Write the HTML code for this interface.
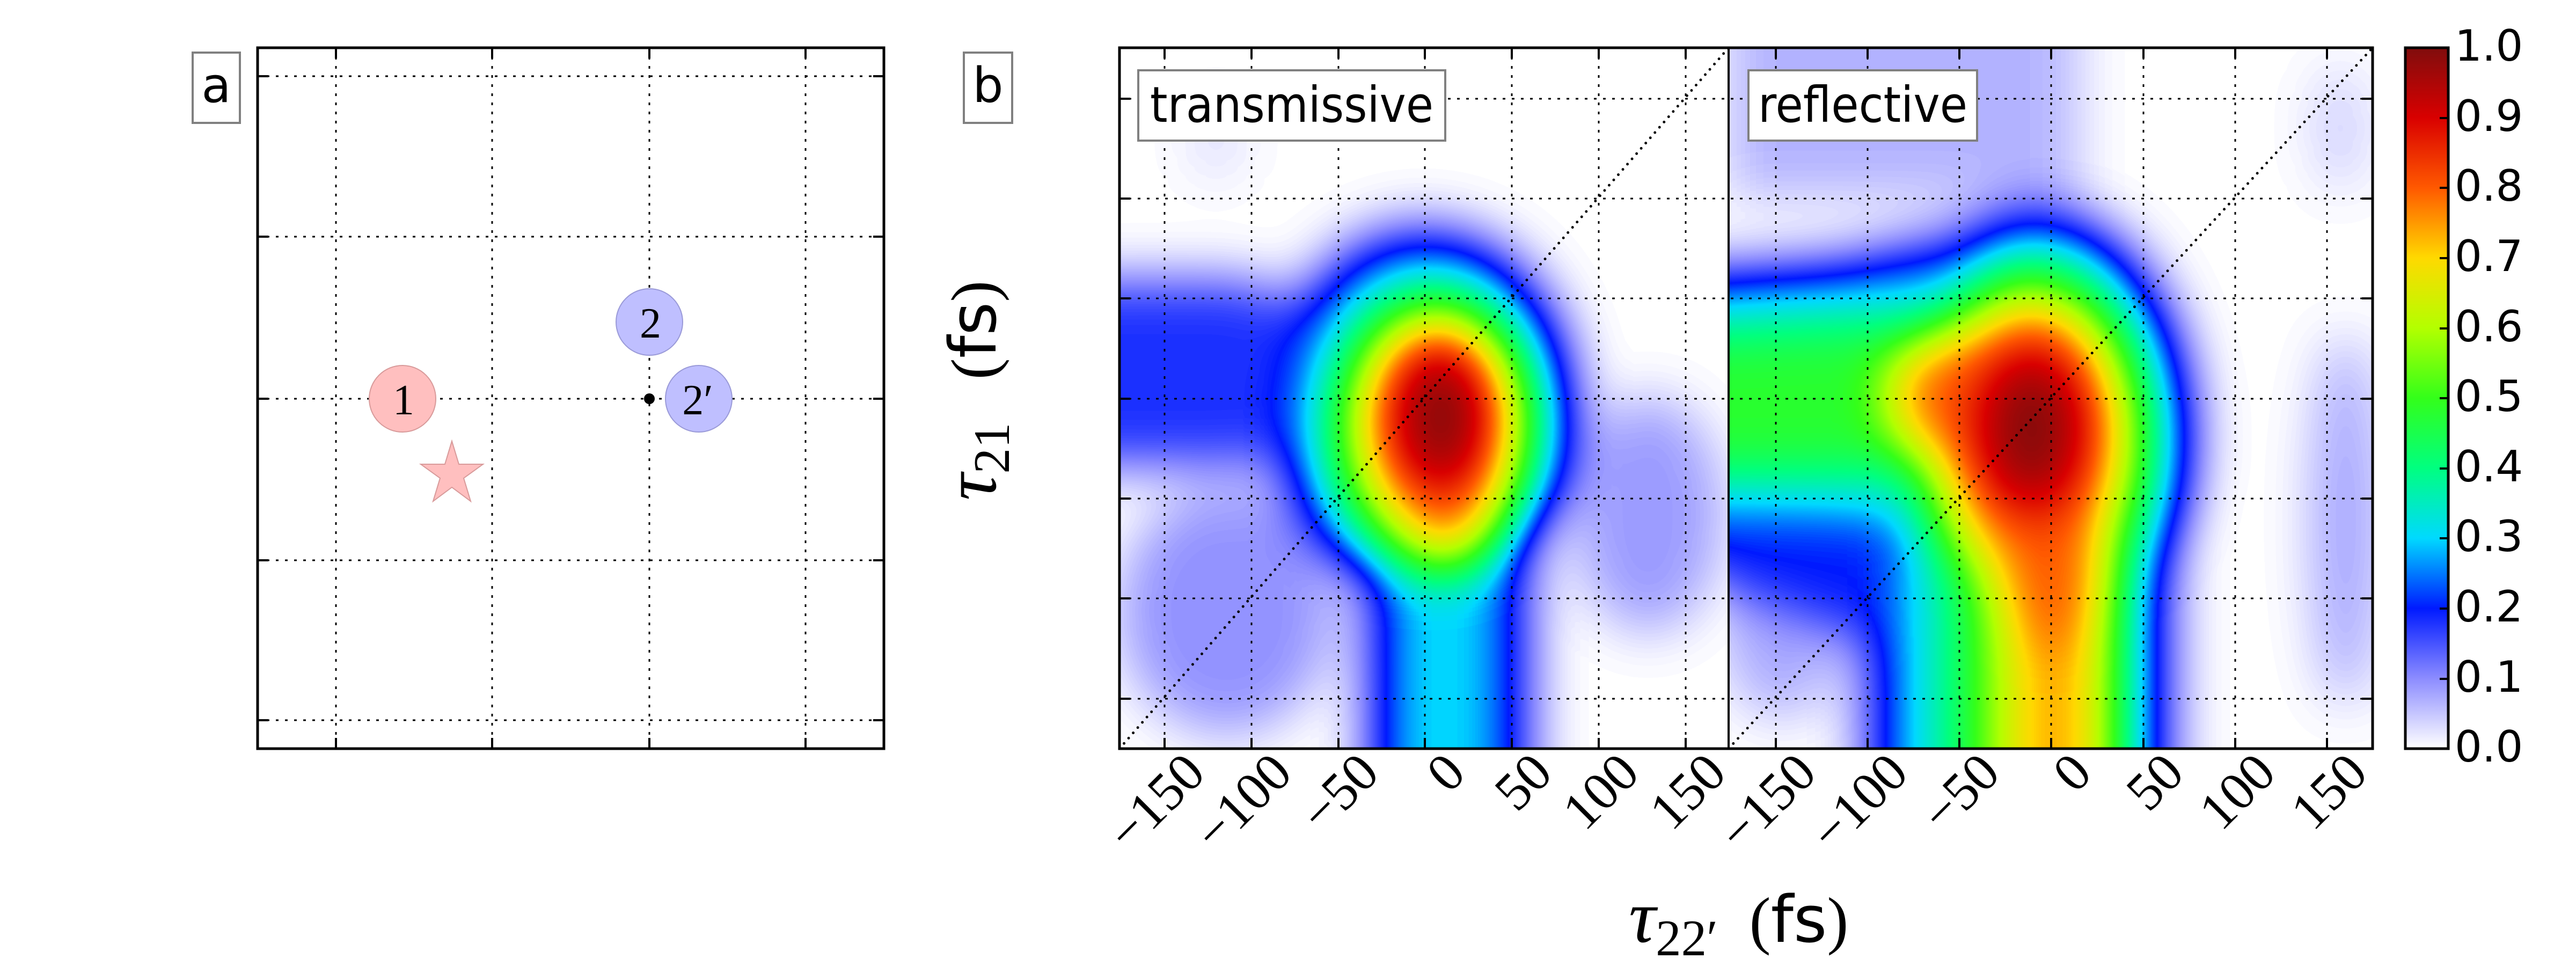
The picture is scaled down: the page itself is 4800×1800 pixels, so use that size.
<!DOCTYPE html>
<html><head><meta charset="utf-8"><style>html,body{margin:0;padding:0;background:#fff}svg{display:block}</style></head>
<body>
<svg width="4800" height="1800" viewBox="0 0 4800 1800" xmlns="http://www.w3.org/2000/svg">
<defs>
<filter id="cm" filterUnits="userSpaceOnUse" x="-300" y="-300" width="1800" height="1900" color-interpolation-filters="sRGB">
<feGaussianBlur stdDeviation="50"/>
<feComponentTransfer>
<feFuncR type="table" tableValues="1 0.55 0 0 0 0.2 0.7 1 1 0.85 0.5"/>
<feFuncG type="table" tableValues="1 0.55 0.1 0.85 1 1 1 0.85 0.35 0 0.05"/>
<feFuncB type="table" tableValues="1 1 1 1 0.5 0.1 0 0 0 0 0.05"/>
<feFuncA type="table" tableValues="1 1"/>
</feComponentTransfer>
</filter>
<clipPath id="c1"><rect x="0" y="0" width="1135" height="1306"/></clipPath>
<clipPath id="c2"><rect x="0" y="0" width="1200" height="1306"/></clipPath>
<linearGradient id="cb" x1="0" y1="1" x2="0" y2="0">
<stop offset="0" stop-color="#ffffff"/><stop offset="0.1" stop-color="#8c8cff"/><stop offset="0.2" stop-color="#001aff"/>
<stop offset="0.3" stop-color="#00d9ff"/><stop offset="0.4" stop-color="#00ff80"/><stop offset="0.5" stop-color="#33ff1a"/>
<stop offset="0.6" stop-color="#b3ff00"/><stop offset="0.7" stop-color="#ffd900"/><stop offset="0.8" stop-color="#ff5900"/>
<stop offset="0.9" stop-color="#d90000"/><stop offset="1" stop-color="#800d0d"/>
</linearGradient>
</defs>

<!-- Panel a -->
<g stroke="#000" stroke-width="3" stroke-dasharray="5 12" fill="none">
<line x1="480" y1="142" x2="1647" y2="142"/><line x1="480" y1="441" x2="1647" y2="441"/>
<line x1="480" y1="743" x2="1647" y2="743"/><line x1="480" y1="1044" x2="1647" y2="1044"/>
<line x1="480" y1="1342" x2="1647" y2="1342"/>
<line x1="626" y1="89" x2="626" y2="1395"/><line x1="917" y1="89" x2="917" y2="1395"/>
<line x1="1210" y1="89" x2="1210" y2="1395"/><line x1="1501" y1="89" x2="1501" y2="1395"/>
</g>
<g stroke="#000" stroke-width="4">
<path d="M480 142h20M480 441h20M480 743h20M480 1044h20M480 1342h20M1647 142h-20M1647 441h-20M1647 743h-20M1647 1044h-20M1647 1342h-20M626 89v20M917 89v20M1210 89v20M1501 89v20M626 1395v-20M917 1395v-20M1210 1395v-20M1501 1395v-20"/>
</g>
<circle cx="750" cy="743" r="62" fill="#ffbfbf" stroke="#d89a9a" stroke-width="2"/>
<circle cx="1210" cy="600" r="62" fill="#bfbfff" stroke="#9a9ad8" stroke-width="2"/>
<circle cx="1302" cy="743" r="62" fill="#bfbfff" stroke="#9a9ad8" stroke-width="2"/>
<circle cx="1210" cy="743" r="10" fill="#000"/>
<polygon points="842,822 855,865 900,865 864,891 877,934 842,908 807,934 820,891 784,865 829,865" fill="#ffbfbf" stroke="#d89a9a" stroke-width="2"/>
<g font-family="Liberation Serif, serif" font-size="80" text-anchor="middle">
<text x="752" y="772">1</text><text x="1212" y="629">2</text><text x="1300" y="772">2′</text>
</g>
<rect x="480" y="89" width="1167" height="1306" fill="none" stroke="#000" stroke-width="5"/>
<rect x="359" y="98" width="88" height="131" fill="#fff" stroke="#808080" stroke-width="4"/>
<text x="403" y="190" font-family="DejaVu Sans, sans-serif" font-size="90" text-anchor="middle">a</text>
<rect x="1796" y="98" width="90" height="131" fill="#fff" stroke="#808080" stroke-width="4"/>
<text x="1841" y="190" font-family="DejaVu Sans, sans-serif" font-size="90" text-anchor="middle">b</text>

<!-- Transmissive heatmap -->
<g transform="translate(2086,89)">
<g clip-path="url(#c1)">
<g filter="url(#cm)">
<rect x="-300" y="-300" width="1800" height="1900" fill="#000"/>
<ellipse cx="200" cy="1050" rx="200" ry="230" fill="#181818"/>
<ellipse cx="985" cy="870" rx="140" ry="220" fill="#161616"/>
<ellipse cx="180" cy="170" rx="40" ry="80" fill="#0a0a0a"/>
<ellipse cx="565" cy="670" rx="290" ry="345" fill="#303030"/>
<rect x="-200" y="430" width="560" height="350" rx="150" fill="#2e2e2e"/>
<rect x="460" y="900" width="310" height="600" fill="#333"/>
<ellipse cx="575" cy="680" rx="250" ry="300" fill="#474747"/>
<rect x="505" y="900" width="200" height="600" fill="#4d4d4d"/>
<ellipse cx="583" cy="710" rx="215" ry="285" fill="#666"/>
<ellipse cx="588" cy="715" rx="180" ry="245" fill="#8a8a8a"/>
<ellipse cx="590" cy="710" rx="150" ry="210" fill="#adadad"/>
<ellipse cx="610" cy="820" rx="95" ry="140" fill="#c4c4c4"/>
<ellipse cx="592" cy="690" rx="125" ry="170" fill="#d0d0d0"/>
<ellipse cx="598" cy="690" rx="95" ry="140" fill="#f0f0f0"/>
<ellipse cx="603" cy="685" rx="60" ry="95" fill="#fff"/>
</g>
</g>
</g>

<!-- Reflective heatmap -->
<g transform="translate(3221,89)">
<g clip-path="url(#c2)">
<g filter="url(#cm)">
<rect x="-300" y="-300" width="1800" height="1900" fill="#000"/>
<rect x="0" y="-100" width="650" height="380" fill="#111"/>
<ellipse cx="1150" cy="880" rx="60" ry="350" fill="#161616"/>
<ellipse cx="100" cy="1050" rx="120" ry="200" fill="#131313"/>
<ellipse cx="1140" cy="150" rx="40" ry="120" fill="#0e0e0e"/>
<ellipse cx="570" cy="720" rx="300" ry="430" fill="#333"/>
<polygon points="-200,420 200,390 420,340 830,900 830,1500 250,1500 250,1100 -200,930" fill="#333"/>
<ellipse cx="575" cy="740" rx="265" ry="380" fill="#545454"/>
<polygon points="-200,470 250,440 400,420 400,900 200,870 -200,860" fill="#545454"/>
<rect x="320" y="950" width="440" height="600" fill="#545454"/>
<ellipse cx="565" cy="730" rx="225" ry="345" fill="#777"/>
<polygon points="-200,550 250,520 350,520 350,790 -200,790" fill="#7a7a7a"/>
<rect x="420" y="950" width="320" height="600" fill="#808080"/>
<ellipse cx="565" cy="740" rx="190" ry="290" fill="#9e9e9e"/>
<rect x="500" y="950" width="210" height="600" fill="#a6a6a6"/>
<rect x="540" y="900" width="135" height="600" fill="#bdbdbd"/>
<ellipse cx="565" cy="720" rx="165" ry="240" fill="#c8c8c8"/>
<ellipse cx="420" cy="650" rx="120" ry="120" fill="#cacaca"/>
<ellipse cx="600" cy="930" rx="100" ry="200" fill="#cccccc"/>
<ellipse cx="565" cy="710" rx="120" ry="175" fill="#e0e0e0"/>
<ellipse cx="565" cy="710" rx="80" ry="125" fill="#fff"/>
</g>
</g>
</g>

<!-- grids for b -->
<g stroke="#000" stroke-width="3" stroke-dasharray="5 12" fill="none">
<path d="M2086 184H4421M2086 370H4421M2086 556H4421M2086 743H4421M2086 929H4421M2086 1115H4421M2086 1302H4421"/>
<path d="M2170 89V1395M2332 89V1395M2494 89V1395M2655 89V1395M2817 89V1395M2979 89V1395M3141 89V1395"/>
<path d="M3309 89V1395M3480 89V1395M3651 89V1395M3822 89V1395M3994 89V1395M4165 89V1395M4336 89V1395"/>
</g>
<g stroke="#000" stroke-width="5" stroke-linecap="round" stroke-dasharray="0 13" fill="none">
<line x1="2086" y1="1395" x2="3221" y2="89"/>
<line x1="3221" y1="1395" x2="4421" y2="89"/>
</g>
<g stroke="#000" stroke-width="4">
<path d="M2086 184h20M2086 370h20M2086 556h20M2086 743h20M2086 929h20M2086 1115h20M2086 1302h20M4421 184h-20M4421 370h-20M4421 556h-20M4421 743h-20M4421 929h-20M4421 1115h-20M4421 1302h-20"/>
<path d="M2170 1395v-20M2332 1395v-20M2494 1395v-20M2655 1395v-20M2817 1395v-20M2979 1395v-20M3141 1395v-20M3309 1395v-20M3480 1395v-20M3651 1395v-20M3822 1395v-20M3994 1395v-20M4165 1395v-20M4336 1395v-20"/>
<path d="M2170 89v20M2332 89v20M2494 89v20M2655 89v20M2817 89v20M2979 89v20M3141 89v20M3309 89v20M3480 89v20M3651 89v20M3822 89v20M3994 89v20M4165 89v20M4336 89v20"/>
</g>
<rect x="2086" y="89" width="2335" height="1306" fill="none" stroke="#000" stroke-width="5"/>
<line x1="3221" y1="89" x2="3221" y2="1395" stroke="#000" stroke-width="4"/>

<rect x="2121" y="131" width="572" height="131" fill="#fff" stroke="#808080" stroke-width="4"/>
<text x="2143" y="227" font-family="DejaVu Sans, sans-serif" font-size="92" textLength="528" lengthAdjust="spacingAndGlyphs">transmissive</text>
<rect x="3258" y="131" width="426" height="131" fill="#fff" stroke="#808080" stroke-width="4"/>
<text x="3276" y="227" font-family="DejaVu Sans, sans-serif" font-size="92" textLength="390" lengthAdjust="spacingAndGlyphs">reflective</text>

<!-- x tick labels -->
<g font-family="Liberation Serif, serif" font-size="100" text-anchor="end">
<text transform="translate(2250,1445) rotate(-45)">−150</text>
<text transform="translate(2412,1445) rotate(-45)">−100</text>
<text transform="translate(2574,1445) rotate(-45)">−50</text>
<text transform="translate(2735,1445) rotate(-45)">0</text>
<text transform="translate(2897,1445) rotate(-45)">50</text>
<text transform="translate(3059,1445) rotate(-45)">100</text>
<text transform="translate(3221,1445) rotate(-45)">150</text>
<text transform="translate(3389,1445) rotate(-45)">−150</text>
<text transform="translate(3560,1445) rotate(-45)">−100</text>
<text transform="translate(3731,1445) rotate(-45)">−50</text>
<text transform="translate(3902,1445) rotate(-45)">0</text>
<text transform="translate(4074,1445) rotate(-45)">50</text>
<text transform="translate(4245,1445) rotate(-45)">100</text>
<text transform="translate(4416,1445) rotate(-45)">150</text>
</g>

<!-- axis labels -->
<text transform="translate(1855,860) rotate(-90)" text-anchor="middle"><tspan font-family="Liberation Serif, serif" font-style="italic" font-size="140">τ</tspan><tspan font-family="Liberation Serif, serif" font-size="95" dy="25">21</tspan></text>
<text transform="translate(1855,615) rotate(-90)" text-anchor="middle" font-size="120"><tspan font-family="Liberation Serif, serif">(</tspan><tspan font-family="DejaVu Sans, sans-serif">fs</tspan><tspan font-family="Liberation Serif, serif">)</tspan></text>
<text x="3118" y="1755" text-anchor="middle"><tspan font-family="Liberation Serif, serif" font-style="italic" font-size="140">τ</tspan><tspan font-family="Liberation Serif, serif" font-size="95" dy="25">22′</tspan></text>
<text x="3352" y="1755" text-anchor="middle" font-size="120"><tspan font-family="Liberation Serif, serif">(</tspan><tspan font-family="DejaVu Sans, sans-serif">fs</tspan><tspan font-family="Liberation Serif, serif">)</tspan></text>

<!-- colorbar -->
<rect x="4482" y="89" width="80" height="1306" fill="url(#cb)" stroke="#000" stroke-width="5"/>
<g stroke="#000" stroke-width="4">
<path d="M4562 220h-16M4562 350h-16M4562 481h-16M4562 612h-16M4562 742h-16M4562 873h-16M4562 1003h-16M4562 1134h-16M4562 1265h-16"/>
</g>
<g font-family="DejaVu Sans, sans-serif" font-size="80">
<text x="4574" y="113">1.0</text><text x="4574" y="244">0.9</text><text x="4574" y="374">0.8</text>
<text x="4574" y="505">0.7</text><text x="4574" y="636">0.6</text><text x="4574" y="766">0.5</text>
<text x="4574" y="897">0.4</text><text x="4574" y="1027">0.3</text><text x="4574" y="1158">0.2</text>
<text x="4574" y="1289">0.1</text><text x="4574" y="1419">0.0</text>
</g>
</svg>
</body></html>
